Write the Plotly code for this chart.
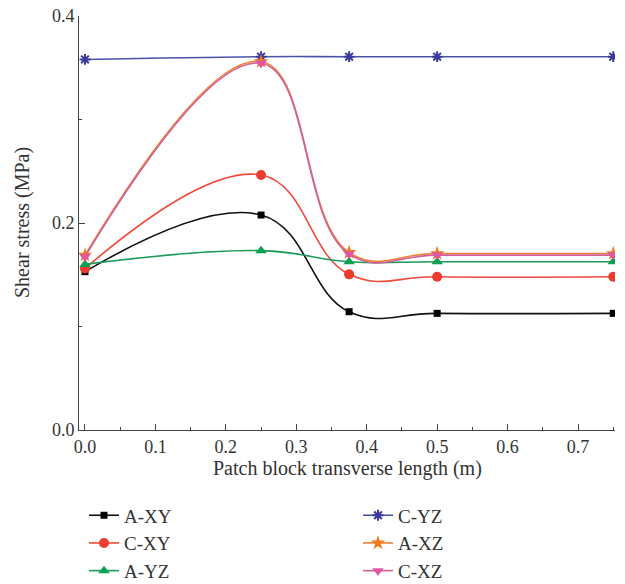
import plotly.graph_objects as go

x_vals = [0.0, 0.25, 0.375, 0.5, 0.75]

a_xy = [0.153, 0.2077, 0.1143, 0.1127, 0.1127]
c_xy = [0.156, 0.2464, 0.1504, 0.148, 0.148]
a_yz = [0.160, 0.1733, 0.1626, 0.1626, 0.1626]
c_yz = [0.358, 0.3607, 0.3607, 0.3607, 0.3607]
a_xz = [0.169, 0.3560, 0.1715, 0.1705, 0.1705]
c_xz = [0.1675, 0.3543, 0.170, 0.169, 0.169]

names = ["A-XY", "C-XY", "A-YZ", "C-YZ", "A-XZ", "C-XZ"]
series = [a_xy, c_xy, a_yz, c_yz, a_xz, c_xz]
line_colors = ["#111111", "#f04a3a", "#1a9a55", "#4a55a8", "#f08030", "#d0609a"]
marker_colors = ["#000000", "#ee3b30", "#0aa050", "#3b3a9c", "#f07a20", "#e055a5"]
symbols = ["square", "circle", "triangle-up", "asterisk-open", "star", "triangle-down"]
sizes = [7, 10, 10, 9, 11, 10]
legends = ["legend", "legend", "legend", "legend2", "legend2", "legend2"]

fig = go.Figure()
for n, s, lc, mc, sym, sz, lg in zip(names, series, line_colors, marker_colors, symbols, sizes, legends):
    marker = dict(symbol=sym, size=sz, color=mc)
    if sym == "asterisk-open":
        marker["line"] = dict(color=mc, width=2)
    fig.add_trace(go.Scatter(
        x=x_vals, y=s, name=n, mode="lines+markers",
        line=dict(color=lc, width=1.6, shape="spline", smoothing=1.2),
        marker=marker, legend=lg,
    ))

font_family = "Liberation Serif, Times New Roman, serif"
legend_common = dict(
    orientation="v", xref="container", yref="container",
    xanchor="left", yanchor="top", y=0.15,
    font=dict(family=font_family, size=19, color="#333333"),
    bgcolor="rgba(0,0,0,0)", tracegroupgap=0,
)

fig.update_layout(
    width=625, height=584,
    margin=dict(l=79, r=10, t=16, b=154, autoexpand=False),
    paper_bgcolor="white", plot_bgcolor="white",
    font=dict(family=font_family, size=18, color="#333333"),
    showlegend=True,
    legend=dict(x=84 / 625, **legend_common),
    legend2=dict(x=358 / 625, **legend_common),
    xaxis=dict(
        range=[-0.0085, 0.7525],
        tickvals=[0.0, 0.1, 0.2, 0.3, 0.4, 0.5, 0.6, 0.7],
        ticktext=["0.0", "0.1", "0.2", "0.3", "0.4", "0.5", "0.6", "0.7"],
        ticks="inside", ticklen=6, tickcolor="#444444", tickwidth=1,
        minor=dict(dtick=0.05, tick0=0, ticks="inside", ticklen=3, tickcolor="#444444"),
        showline=True, linecolor="#444444", linewidth=1,
        showgrid=False, zeroline=False,
        tickfont=dict(size=18), tickangle=0, automargin=False,
    ),
    yaxis=dict(
        range=[0, 0.4],
        tickvals=[0.0, 0.2, 0.4],
        ticktext=["0.0", "0.2", "0.4"],
        ticks="inside", ticklen=6, tickcolor="#444444", tickwidth=1,
        minor=dict(dtick=0.1, tick0=0, ticks="inside", ticklen=3, tickcolor="#444444"),
        showline=True, linecolor="#444444", linewidth=1,
        showgrid=False, zeroline=False,
        tickfont=dict(size=18), automargin=False,
    ),
    annotations=[
        dict(text="Shear stress (MPa)", xref="paper", yref="paper",
             x=-57 / 536, y=0.5, xanchor="center", yanchor="middle",
             textangle=-90, showarrow=False, font=dict(size=20, color="#333333")),
        dict(text="Patch block transverse length (m)", xref="paper", yref="paper",
             x=0.5, y=-38 / 414, xanchor="center", yanchor="middle",
             showarrow=False, font=dict(size=20, color="#333333")),
    ],
)

fig.write_html("out.html")
